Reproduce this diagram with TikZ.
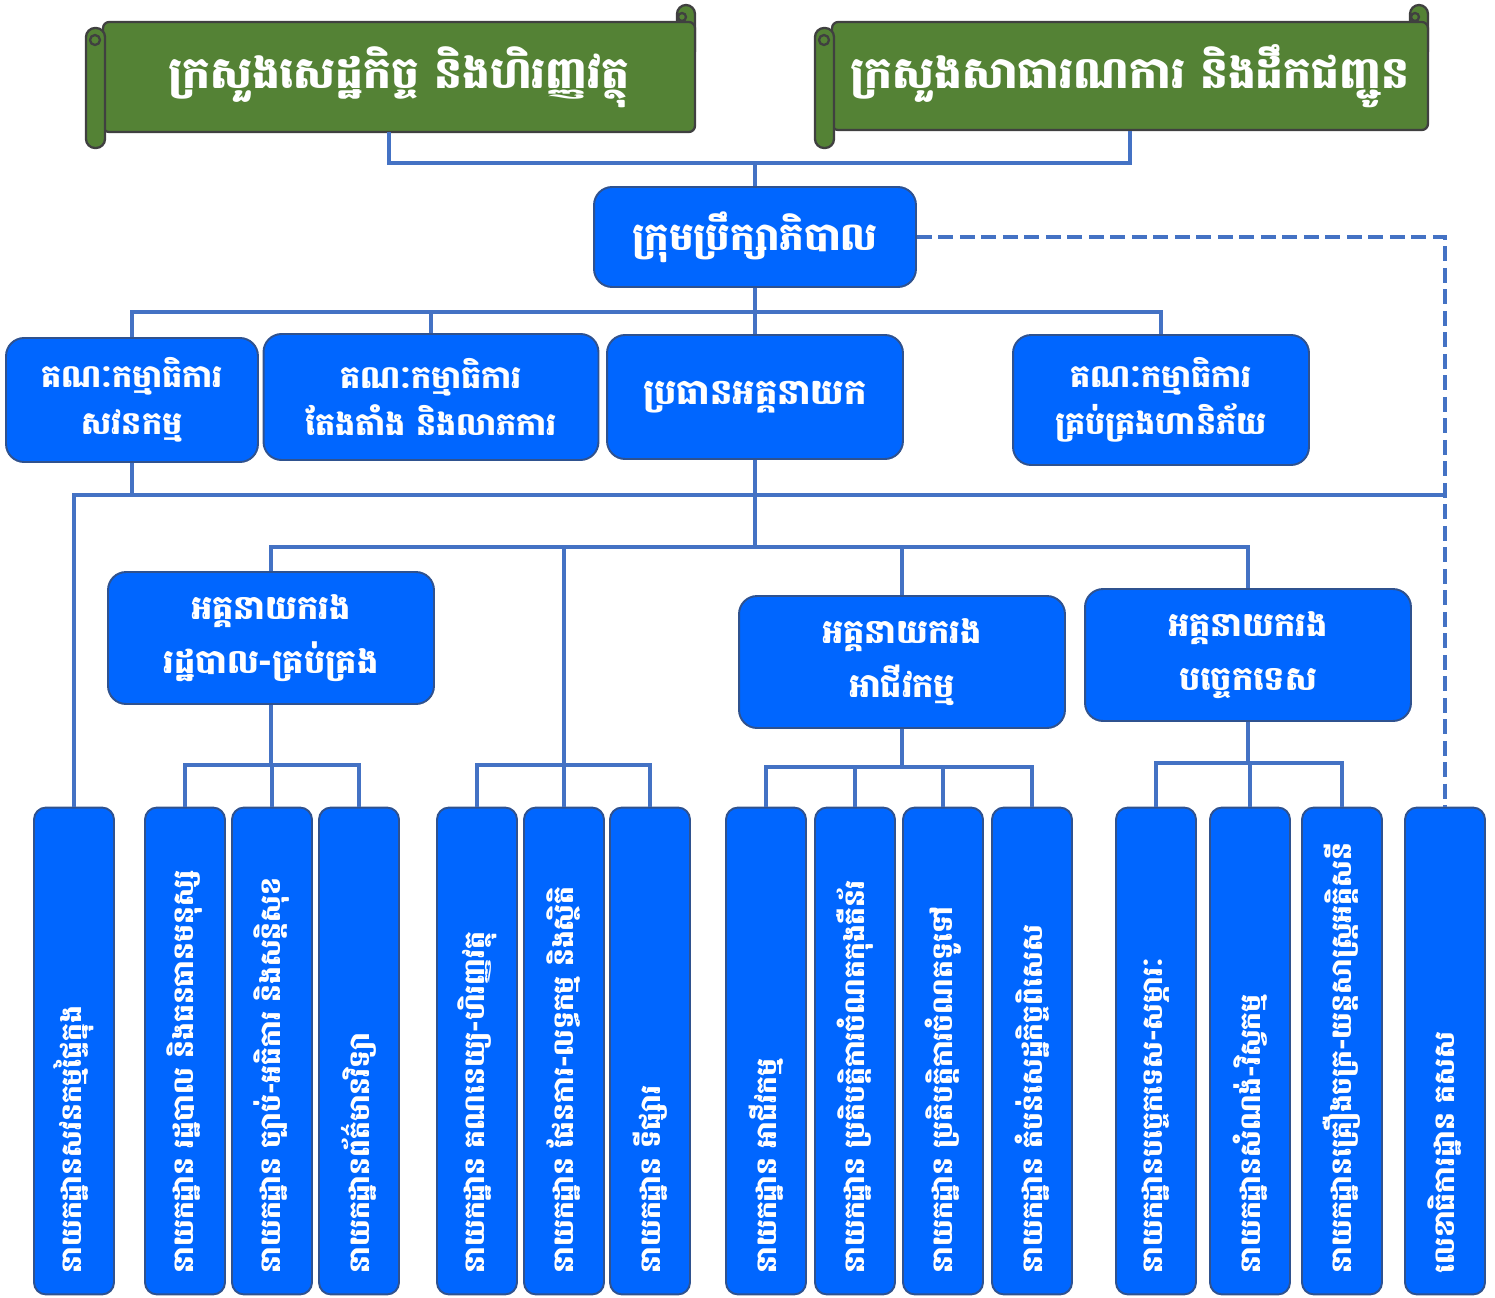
\documentclass[tikz,border=0pt]{standalone}
\usepackage{fontspec}
\newfontfamily\khmer[Script=Khmer]{Battambang}
\usepackage{tikz}
\usetikzlibrary{positioning}
\definecolor{boxblue}{HTML}{0066FF}
\definecolor{boxedge}{HTML}{2F528F}
\definecolor{linkblue}{HTML}{4472C4}
\definecolor{scrollgreen}{HTML}{548235}
\definecolor{scrolledge}{HTML}{404040}
\tikzstyle{ribbon} = [rectangle, rounded corners=0.12cm, fill=scrollgreen, draw=scrolledge, line width=1.3pt, text=white, font=\khmer\bfseries\fontsize{25}{30}\selectfont]
\tikzstyle{scroll} = [fill=scrollgreen, draw=scrolledge, line width=1.3pt]
\tikzstyle{unit} = [rectangle, rounded corners=0.36cm, fill=boxblue, draw=boxedge, line width=1.1pt, text=white, align=center, font=\khmer\bfseries\fontsize{18}{27}\selectfont]
\tikzstyle{dept} = [rectangle, rounded corners=0.24cm, fill=boxblue, draw=boxedge, line width=1.1pt, text=white, rotate=90, text width=8.9cm, inner xsep=0.42cm, minimum height=1.6cm, align=left, font=\khmer\bfseries\fontsize{16}{18}\selectfont]
\tikzstyle{link} = [draw=linkblue, line width=2.4pt]

\begin{document}
\begin{tikzpicture}[x=0.02cm,y=-0.02cm]
\useasboundingbox (0,0) rectangle (1495,1298);
\draw[scroll, rounded corners=0.18cm] (677,5) rectangle (695,60);
\node[ribbon, minimum width=11.84cm, minimum height=2.2cm] (mef) at (399,77) {ក្រសួងសេដ្ឋកិច្ច និងហិរញ្ញវត្ថុ};
\draw[scroll, rounded corners=0.18cm] (86,28) rectangle (105,148);
\draw[scroll] (95,40) circle (5);
\draw[scroll] (682,17) circle (4);
\draw[scroll, rounded corners=0.18cm] (1410,5) rectangle (1428,60);
\node[ribbon, minimum width=11.92cm, minimum height=2.16cm] (mpwt) at (1130,76) {ក្រសួងសាធារណការ និងដឹកជញ្ជូន};
\draw[scroll, rounded corners=0.18cm] (815,28) rectangle (834,148);
\draw[scroll] (824,40) circle (5);
\draw[scroll] (1415,17) circle (4);

\node[unit, minimum width=6.44cm, minimum height=2cm, font=\khmer\bfseries\fontsize{22}{26}\selectfont] (board) at (755,237) {ក្រុមប្រឹក្សាភិបាល};
\node[unit, minimum width=5.04cm, minimum height=2.48cm] (ac) at (132,400) {គណៈកម្មាធិការ\\សវនកម្ម};
\node[unit, minimum width=6.7cm, minimum height=2.52cm] (nc) at (431,397) {គណៈកម្មាធិការ\\តែងតាំង និងលាភការ};
\node[unit, minimum width=5.92cm, minimum height=2.48cm, font=\khmer\bfseries\fontsize{20}{27}\selectfont] (ceo) at (755,397) {ប្រធានអគ្គនាយក};
\node[unit, minimum width=5.92cm, minimum height=2.6cm] (rc) at (1161,400) {គណៈកម្មាធិការ\\គ្រប់គ្រងហានិភ័យ};
\node[unit, minimum width=6.52cm, minimum height=2.64cm, font=\khmer\bfseries\fontsize{19}{31}\selectfont] (ddga) at (271,638) {អគ្គនាយករង\\រដ្ឋបាល-គ្រប់គ្រង};
\node[unit, minimum width=6.52cm, minimum height=2.64cm, font=\khmer\bfseries\fontsize{19}{31}\selectfont] (ddgb) at (902,662) {អគ្គនាយករង\\អាជីវកម្ម};
\node[unit, minimum width=6.52cm, minimum height=2.64cm, font=\khmer\bfseries\fontsize{19}{31}\selectfont] (ddgt) at (1248,655) {អគ្គនាយករង\\បច្ចេកទេស};

\node[dept] (d1) at (74,1051) {នាយកដ្ឋានសវនកម្មផ្ទៃក្នុង};
\node[dept] (d2) at (185,1051) {នាយកដ្ឋាន រដ្ឋបាល និងធនធានមនុស្ស};
\node[dept] (d3) at (272,1051) {នាយកដ្ឋាន ច្បាប់-អធិការ និងសន្តិសុខ};
\node[dept] (d4) at (359,1051) {នាយកដ្ឋានព័ត៌មានវិទ្យា};
\node[dept] (d5) at (477,1051) {នាយកដ្ឋាន គណនេយ្យ-ហិរញ្ញវត្ថុ};
\node[dept] (d6) at (564,1051) {នាយកដ្ឋាន ផែនការ-លទ្ធកម្ម និងស្ថិតិ};
\node[dept] (d7) at (650,1051) {នាយកដ្ឋាន ទីផ្សារ};
\node[dept] (d8) at (766,1051) {នាយកដ្ឋាន អាជីវកម្ម};
\node[dept] (d9) at (855,1051) {នាយកដ្ឋាន ប្រតិបត្តិការចំណតកុងតឺន័រ};
\node[dept] (d10) at (943,1051) {នាយកដ្ឋាន ប្រតិបត្តិការចំណតទូទៅ};
\node[dept] (d11) at (1032,1051) {នាយកដ្ឋាន តំបន់សេដ្ឋកិច្ចពិសេស};
\node[dept] (d12) at (1156,1051) {នាយកដ្ឋានបច្ចេកទេស-សម្ភារៈ};
\node[dept] (d13) at (1250,1051) {នាយកដ្ឋានសំណង់-វិស្វកម្ម};
\node[dept] (d14) at (1342,1051) {នាយកដ្ឋានគ្រឿងចក្រ-យន្តសាស្ត្រអគ្គិសនី};
\node[dept] (d15) at (1445,1051) {លេខាធិការដ្ឋាន គសស};

\coordinate (mefdrop) at (389,132);
\coordinate (topbus) at (755,163);
\coordinate (boardbus) at (755,312);
\coordinate (deptbus) at (1445,495);
\coordinate (ceobus) at (755,547);
\coordinate (adminbus) at (271,765);
\coordinate (ownbus) at (564,765);
\coordinate (bizbus) at (902,767);
\coordinate (techbus) at (1248,763);

\draw[link] (mefdrop) |- (topbus) -| (mpwt.south);
\draw[link] (topbus) -- (board.north);
\draw[link] (board.south) -- (boardbus);
\draw[link] (boardbus) -| (ac.north);
\draw[link] (boardbus) -| (nc.north);
\draw[link] (boardbus) -- (ceo.north);
\draw[link] (boardbus) -| (rc.north);
\draw[link, dashed, dash pattern=on 0.3cm off 0.13cm] (board.east) -| (d15.east);
\draw[link] (ac.south) -- (ac.south |- deptbus);
\draw[link] (d1.east) |- (deptbus);
\draw[link] (ceo.south) -- (ceobus);
\draw[link] (ceobus) -| (ddga.north);
\draw[link] (ceobus) -| (ddgb.north);
\draw[link] (ceobus) -| (ddgt.north);
\draw[link] (ceobus) -| (ownbus);
\draw[link] (ddga.south) -- (adminbus);
\draw[link] (adminbus) -| (d2.east);
\draw[link] (adminbus) -| (d3.east);
\draw[link] (adminbus) -| (d4.east);
\draw[link] (ownbus) -| (d5.east);
\draw[link] (ownbus) -- (d6.east);
\draw[link] (ownbus) -| (d7.east);
\draw[link] (ddgb.south) -- (bizbus);
\draw[link] (bizbus) -| (d8.east);
\draw[link] (bizbus) -| (d9.east);
\draw[link] (bizbus) -| (d10.east);
\draw[link] (bizbus) -| (d11.east);
\draw[link] (ddgt.south) -- (techbus);
\draw[link] (techbus) -| (d12.east);
\draw[link] (techbus) -| (d13.east);
\draw[link] (techbus) -| (d14.east);
\end{tikzpicture}
\end{document}
